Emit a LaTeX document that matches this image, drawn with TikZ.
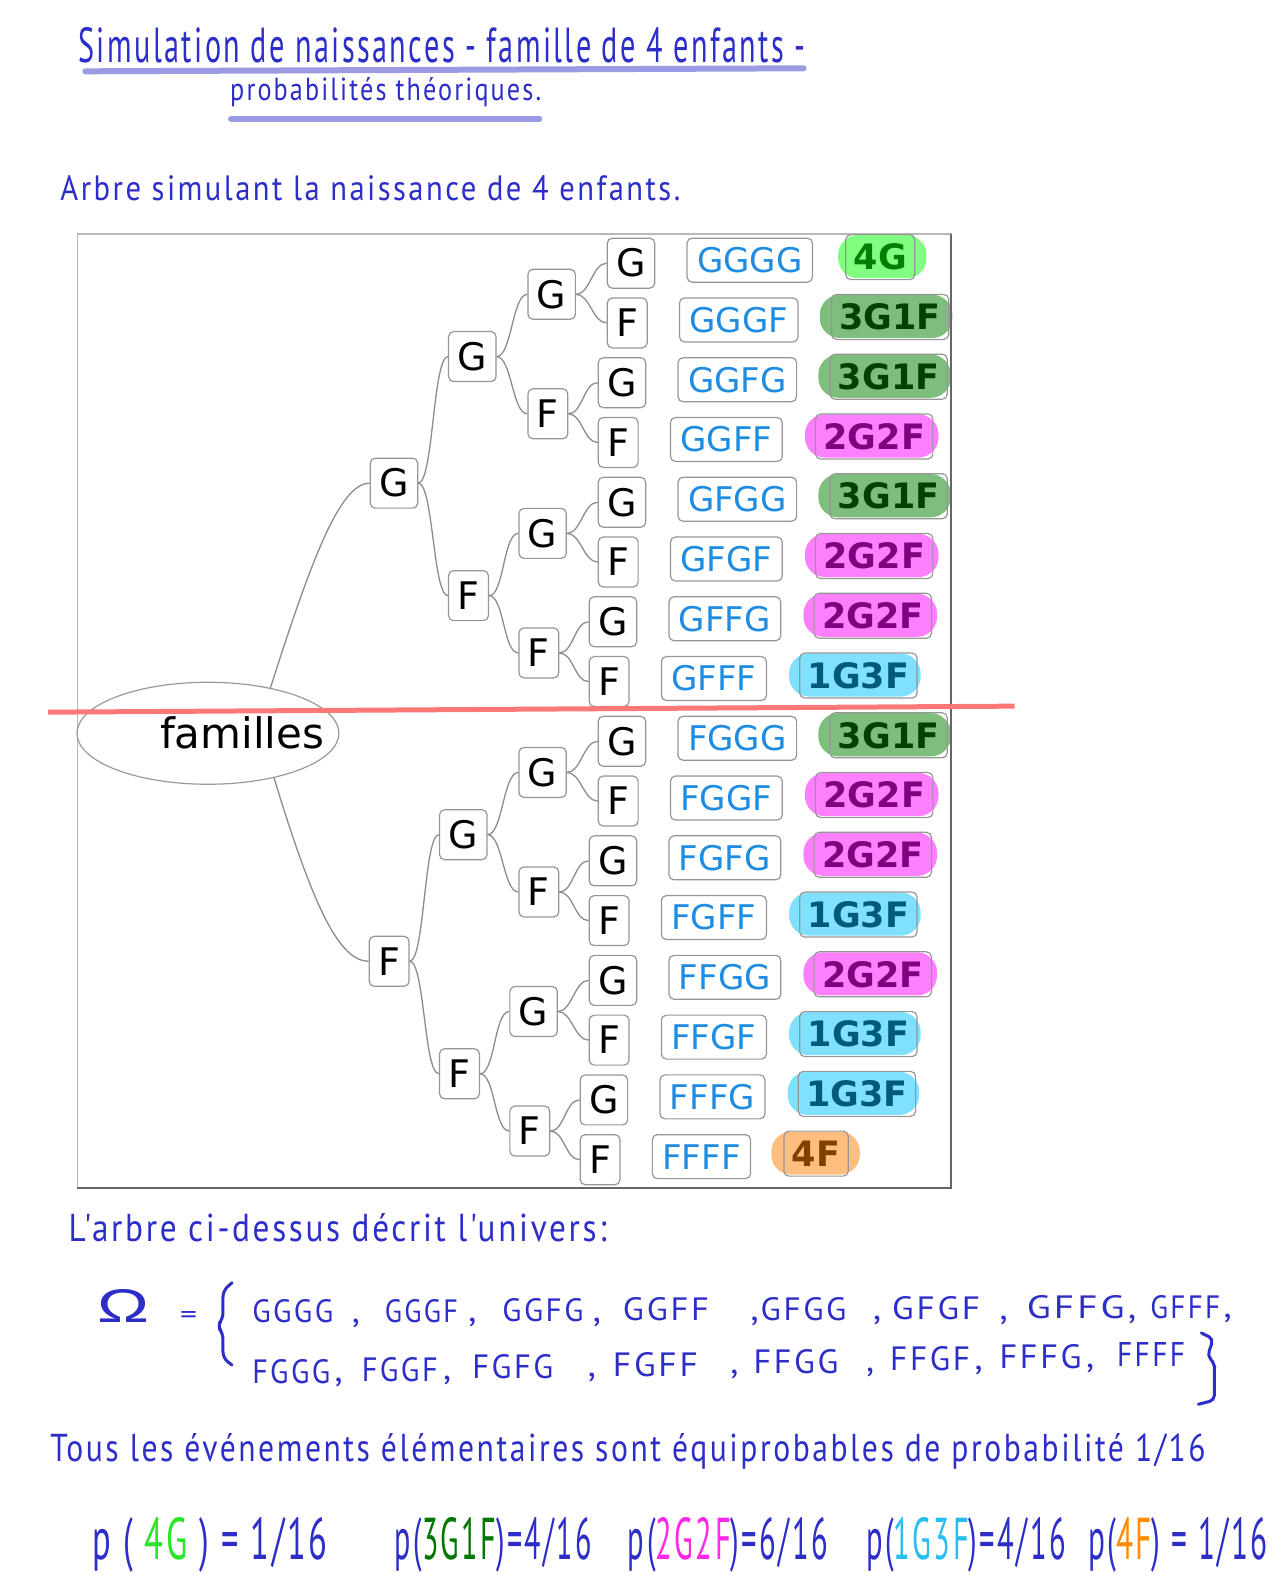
\documentclass[tikz,border=0pt]{standalone}
\usepackage{fontspec}
\usepackage{graphicx}
\usetikzlibrary{shapes.geometric,calc,backgrounds}
\newfontfamily\dejavu{DejaVu Sans}
\newfontfamily\handf[LetterSpace=8]{PT Sans}
\newfontfamily\greekf{Liberation Sans}
\definecolor{ink}{RGB}{45,45,200}
\definecolor{uline}{RGB}{155,155,228}
\definecolor{seqblue}{RGB}{30,140,225}
\definecolor{edgegray}{RGB}{140,140,140}
\definecolor{boxgray}{RGB}{150,150,150}
\definecolor{redline}{RGB}{255,120,120}
\definecolor{tA}{RGB}{0,128,0}
\definecolor{hA}{RGB}{128,255,128}
\definecolor{tB}{RGB}{0,64,0}
\definecolor{hB}{RGB}{125,190,125}
\definecolor{tC}{RGB}{128,0,128}
\definecolor{hC}{RGB}{255,128,255}
\definecolor{tD}{RGB}{0,90,120}
\definecolor{hD}{RGB}{128,224,255}
\definecolor{tE}{RGB}{128,64,0}
\definecolor{hE}{RGB}{255,190,128}
\definecolor{pfourG}{RGB}{40,230,40}
\definecolor{pthreeG}{RGB}{0,120,0}
\definecolor{ptwoG}{RGB}{255,40,230}
\definecolor{poneG}{RGB}{40,190,240}
\definecolor{pfourF}{RGB}{255,140,0}
\newcommand\hwb[3]{\resizebox{#1pt}{#2pt}{\handf #3}}
\begin{document}
\begin{tikzpicture}[x=1.0047pt,y=-1.0047pt,
  tn/.style={draw=boxgray, line width=1.2pt, rounded corners=5pt, fill=white,
    font=\dejavu\fontsize{38}{40}\selectfont, inner xsep=9pt, inner ysep=0pt,
    minimum height=50pt, anchor=west, text=black},
  sq/.style={draw=boxgray, line width=1.2pt, rounded corners=5pt, fill=white,
    font=\dejavu\fontsize{34}{36}\selectfont, text=seqblue, inner xsep=10pt,
    inner ysep=0pt, minimum height=44pt, anchor=west},
  bd/.style={draw=boxgray, line width=1.2pt, rounded corners=5pt,
    font=\dejavu\bfseries\fontsize{35}{36}\selectfont, inner xsep=8pt,
    inner ysep=0pt, minimum height=45pt, anchor=west},
  edge/.style={draw=edgegray, line width=1.3pt},
  hw/.style={inner sep=0pt, anchor=base west, text=ink},
  commastyle/.style={inner sep=0pt, anchor=base west, text=ink, font=\handf\fontsize{36}{36}\selectfont}]
\useasboundingbox (0,0) rectangle (1269,1568);

% ---------- handwritten header ----------
\node[hw] (t1) at (78,62) {\hwb{727}{35}{Simulation de naissances - famille de 4 enfants -}};
\draw[uline, line width=6pt, line cap=round] (85,71) -- (800,68);
\node[hw] (t2) at (229,100) {\hwb{311}{23}{probabilités théoriques.}};
\draw[uline, line width=6pt, line cap=round] (230,118) -- (537,118);
\node[hw] (t3) at (60,200) {\hwb{620}{25}{Arbre simulant la naissance de 4 enfants.}};

% ---------- frame ----------
\draw[gray!55, line width=1.2pt] (77,233) rectangle (947,1183);
\draw[gray!80!black, line width=1.8pt] (947,233) -- (947,1183) -- (77,1183);

% ---------- root ----------
\node[ellipse, draw=gray!80, line width=1.2pt, minimum width=262pt,
      minimum height=102pt, inner sep=0pt] (fam) at (207,730) {};
\node[inner sep=0pt, font=\dejavu\fontsize{42}{44}\selectfont] (famt) at (241,730) {familles};

% ---------- inner tree nodes ----------
\node[tn] (a) at (368,481) {G};
\node[tn] (b) at (367,957) {F};
\node[tn] (aa) at (446,355) {G};
\node[tn] (ab) at (446,593) {F};
\node[tn] (ba) at (437,831) {G};
\node[tn] (bb) at (437,1069) {F};
\node[tn] (aaa) at (525,293) {G};
\node[tn] (aab) at (525,412) {F};
\node[tn] (aba) at (516,531) {G};
\node[tn] (abb) at (516,650) {F};
\node[tn] (baa) at (516,769) {G};
\node[tn] (bab) at (516,888) {F};
\node[tn] (bba) at (507,1007) {G};
\node[tn] (bbb) at (507,1126) {F};

\draw[edge] (fam.36) .. controls +(40,-125) and +(-30,0) .. (a.west);
\draw[edge] (fam.-34) .. controls +(38,125) and +(-30,0) .. (b.west);
\foreach \p/\c in {a/aa,a/ab,b/ba,b/bb,aa/aaa,aa/aab,ab/aba,ab/abb,ba/baa,ba/bab,bb/bba,bb/bbb}
  \draw[edge] (\p.east) .. controls +(15,0) and +(-15,0) .. (\c.west);

% ---------- leaves, sequences, categories ----------
\foreach \i/\lx/\l/\s/\c/\tc/\hc/\pp/\hl/\hr in {
0/604/G/GGGG/4G/tA/hA/aaa/7/11,
1/604/F/GGGF/3G1F/tB/hB/aaa/11/3,
2/595/G/GGFG/3G1F/tB/hB/aab/11/3,
3/595/F/GGFF/2G2F/tC/hC/aab/10/5,
4/595/G/GFGG/3G1F/tB/hB/aba/11/3,
5/595/F/GFGF/2G2F/tC/hC/aba/10/5,
6/586/G/GFFG/2G2F/tC/hC/abb/10/5,
7/586/F/GFFF/1G3F/tD/hD/abb/10/3,
8/595/G/FGGG/3G1F/tB/hB/baa/11/3,
9/595/F/FGGF/2G2F/tC/hC/baa/10/5,
10/586/G/FGFG/2G2F/tC/hC/bab/10/5,
11/586/F/FGFF/1G3F/tD/hD/bab/10/3,
12/586/G/FFGG/2G2F/tC/hC/bba/10/5,
13/586/F/FFGF/1G3F/tD/hD/bba/10/3,
14/577/G/FFFG/1G3F/tD/hD/bbb/10/3,
15/577/F/FFFF/4F/tE/hE/bbb/12/11}
{
  \pgfmathsetmacro\yy{262+59.5*\i}
  \node[tn] (L\i) at (\lx,\yy) {\l};
  \node[sq] (S\i) at ($(L\i.east)+(31,-3)$) {\s};
  \node[bd, text=\tc] (B\i) at ($(S\i.east)+(32,-3)$) {\c};
  \begin{scope}[on background layer]
    \fill[fill=\hc, rounded corners=20pt] ($(B\i.north west)+(-\hl,1)$) rectangle ($(B\i.south east)+(\hr,-2)$);
  \end{scope}
  \draw[edge] (\pp.east) .. controls +(14,0) and +(-14,0) .. (L\i.west);
}

% ---------- red line ----------
\draw[redline, line width=5pt] (48,709) -- (1010,703);

% ---------- universe ----------
\node[hw] (t4) at (68,1236) {\hwb{538}{28}{L'arbre ci-dessus décrit l'univers:}};
\node[hw] (om) at (97,1317) {\resizebox{52pt}{33pt}{\greekf Ω}};
\node[hw] (eq) at (179,1318) {\resizebox{17pt}{12pt}{\handf =}};
\draw[ink, line width=3pt, line cap=round, rounded corners=6pt]
  (231,1277) -- (222,1285) -- (222,1313) -- (216,1320) -- (222,1327) -- (222,1352) -- (231,1359);
\draw[ink, line width=3pt, line cap=round, rounded corners=5pt]
  (1196,1327) -- (1208,1333) -- (1202,1350) -- (1209,1357) -- (1209,1394) -- (1193,1398);

% line 1 of the universe
\foreach \n/\x/\w/\t in {1/251/81/GGGG,2/383/73/GGGF,3/500/81/GGFG,4/620/86/GGFF,
  5/757/86/GFGG,6/888/88/GFGF,7/1022/98/GFFG,8/1145/70/GFFF}
{
  \pgfmathsetmacro\yb{1317-(\x-250)/975*5}
  \node[hw] (u\n) at (\x,\yb) {\hwb{\w}{23}{\t}};
}
\foreach \n/\x in {1/350,2/466,3/590,4/747,5/869,6/995,7/1123,8/1218}
{
  \pgfmathsetmacro\yb{1317-(\x-250)/975*5}
  \node[commastyle] (uc\n) at (\x,\yb) {,};
}
% line 2 of the universe
\foreach \n/\x/\w/\t in {1/251/78/FGGG,2/360/76/FGGF,3/470/81/FGFG,4/610/85/FGFF,
  5/750/85/FFGG,6/886/80/FFGF,7/995/82/FFFG,8/1112/68/FFFF}
{
  \pgfmathsetmacro\yb{1377-(\x-250)/935*18}
  \node[hw] (v\n) at (\x,\yb) {\hwb{\w}{24}{\t}};
}
\foreach \n/\x in {1/333,2/441,3/585,4/727,5/862,6/970,7/1081}
{
  \pgfmathsetmacro\yb{1377-(\x-250)/935*18}
  \node[commastyle] (vc\n) at (\x,\yb) {,};
}

\node[hw] (t5) at (50,1455) {\hwb{1155}{28}{Tous les événements élémentaires sont équiprobables de probabilité 1/16}};

% ---------- probabilities ----------
\node[hw] (p1) at (92,1553) {\hwb{235}{42}{p ( \textcolor{pfourG}{4G} ) = 1/16}};
\node[hw] (p2) at (393,1553) {\hwb{197}{42}{p(\textcolor{pthreeG}{3G1F})=4/16}};
\node[hw] (p3) at (625,1553) {\hwb{200}{42}{p(\textcolor{ptwoG}{2G2F})=6/16}};
\node[hw] (p4) at (862,1553) {\hwb{200}{42}{p(\textcolor{poneG}{1G3F})=4/16}};
\node[hw] (p5) at (1083,1553) {\hwb{180}{42}{p(\textcolor{pfourF}{4F}) = 1/16}};
\end{tikzpicture}
\end{document}
